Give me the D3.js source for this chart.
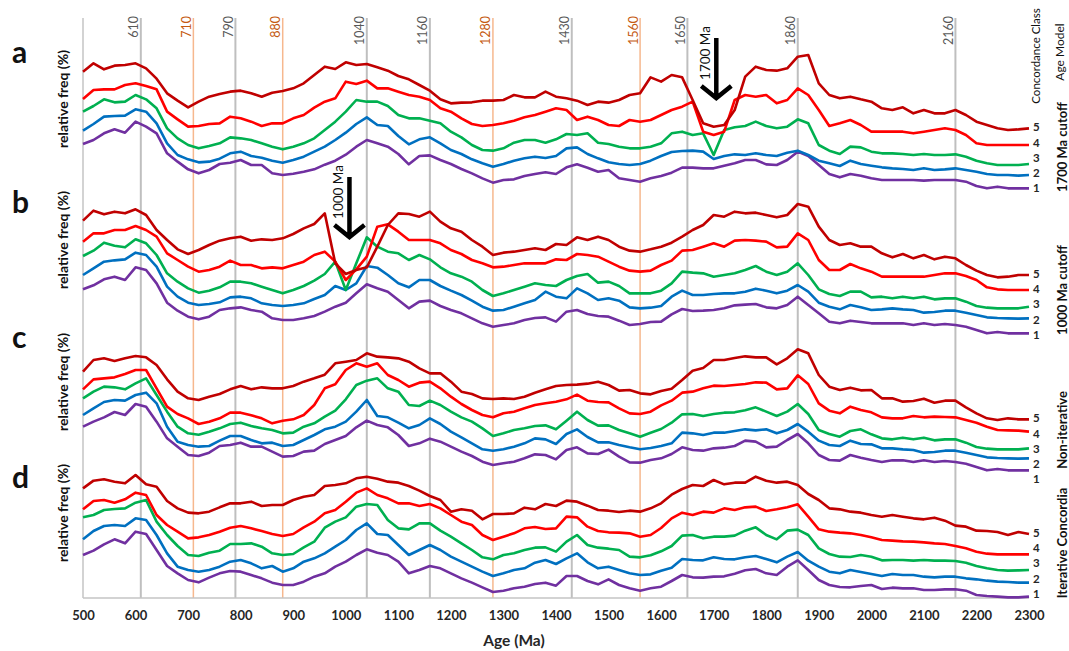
<!DOCTYPE html>
<html>
<head>
<meta charset="utf-8">
<script src="https://cdn.jsdelivr.net/npm/d3@7"></script>
<style>
  body { margin: 0; background: #ffffff; }
  svg text { font-family: Lato, "Open Sans", sans-serif; }
</style>
</head>
<body>
<div id="vis-container"></div>
<script>
// ages sampled every 20 Ma, 500-2300
var ages = d3.range(500, 2301, 20);
var ageTicks = d3.range(500, 2301, 100);
var grayRefs = [610, 790, 1040, 1160, 1430, 1650, 1860, 2160];
var orangeRefs = [710, 880, 1280, 1560];
var classes = [1, 2, 3, 4, 5];
var panelLetters = ["a", "b", "c", "d"];
var modelNames = ["1700 Ma cutoff", "1000 Ma cutoff", "Non-iterative", "Iterative Concordia"];
var arrowAges = [1705, 1007];
var arrowLabels = ["1700 Ma", "1000 Ma"];

// relative frequency (stacked, arbitrary units) - panel a, 1700 Ma cutoff
var a5 = [38.5,41,39.2,40.3,40.5,41,39.5,36.4,32,29.8,27.8,29.5,31,31.8,32.5,32.8,32,31,32.2,32.7,33.5,35,37.5,40,39.3,41.3,
  40.5,40.8,39.8,38.8,37.2,36.2,34.5,32.8,30.2,29,29.2,29.3,29.8,29.8,30,31.5,30.8,30.8,32.5,31,30.5,29.8,28.5,29.5,29.2,
  30,31.5,32,36.8,35.5,37.5,36.8,30,23,22,22.5,27,37,40,39,38.8,39.5,43,43.5,35,31.5,30.5,31,30.2,29.5,
  27.5,27,27.8,26,27,26,26,27,25.5,23.5,22.5,21.5,21,21.2,21.5];
var a4 = [30.3,33,33.2,33.2,34.5,35,34.2,33.2,26.5,24.2,22,22.2,22.8,23,25,24.5,23.5,22.2,23,23,24.5,25.5,27.7,29.5,30.5,35.5,
  34.8,35.8,33.5,33.5,32.5,31.5,31,30,27.5,26.5,24.5,22.8,22.2,22.5,23,23.8,24.8,25.5,26.5,27.5,27,24,25,24,22.5,
  22.2,24,23.5,24,25.5,27,28,29.5,20.5,19.5,20.5,30,31.5,31,31.5,29,30,33.5,31.5,27,22.2,23,24,22.5,20.5,
  20.5,20.5,20.5,20,20.5,21,21.5,21,19.5,17,16.5,16.5,16.5,16.5,16.5];
var a3 = [26.5,28.2,30.2,29.3,29.5,31.5,30.2,27.5,21.5,18.5,16.5,15.5,16.2,17,18.8,18.5,18,17,16,15.2,16,17,18.5,21,23.5,26.5,
  30,29.5,29.5,28.2,25.5,24.5,24.5,23.8,23,20.5,18.8,16.5,15,14.8,15.5,17.2,18,18,17.2,18.2,19.8,19.5,20,17.2,16.8,
  16,15.5,15.5,16,17,20,20.5,19.5,20,13.5,21,21.8,22.2,23.5,22.2,21.5,22,24.2,23,16.5,14.8,13.8,16,15.8,14.5,
  14,14,13.8,13.5,13.8,13.5,13.5,13.7,13,11.8,11,10.5,10.5,10.5,10.8];
var a2 = [20.8,22.8,25,25.2,25.3,27.2,26.5,23,17,13.5,12.2,11.3,11.5,12.4,14,14.5,13.2,12.7,11.8,11.2,12,13,14.5,16,18,20.2,
  22.8,24.8,22.5,22.2,19.2,16.7,18.2,18.8,17,15,13.8,12.2,11,10,10.8,11.8,12.5,13,12.6,13.2,15.5,15.8,13.8,12.5,11.3,
  10.8,10.5,10.8,11.8,13.2,14.4,14.7,14.8,14.5,12.3,13.2,13.7,13.5,14,13.5,13.2,14.2,14.8,13.5,11.8,11,10.2,11.8,10.8,10.3,
  9.8,9.5,9.3,9,9.5,9,9.2,9.5,9,8.5,7.8,7.5,7.5,7.3,7.5];
var a1 = [16.8,18,20,21.2,20.2,23.5,22,20,14,11.5,9.2,8,9,10.8,11.2,12,10.5,10.5,8,7.5,7.9,8.5,9.2,10.6,11.8,13.6,
  16,18,17,16,13.8,10.7,13.2,13.4,12,10.8,9.3,8,6.5,5.2,6,6.2,7.2,7.8,8.3,7.8,9.8,10.7,9.7,8.5,9,
  6.5,6,5.5,6.5,7.2,8.2,9.7,9.7,9.5,9.5,10.3,11,12,12,10.7,10.5,12,14.5,13.2,10.5,7.8,6.8,7.8,7.3,6.5,
  6,6,6,6,5.8,6,6,6,5.5,4.2,3.5,4,3.5,3.5,3.5];

// panel b, 1000 Ma cutoff
var b5 = [47.8,50.8,49.7,50.5,50,51.2,49.5,45,42,39.2,37.8,39,40.5,41.8,42.5,43,41.8,42.2,42,42.5,43.8,45.5,46.8,50,35,31.8,
  33,33.8,40,46.5,50,49.8,49,50.5,47.5,45.5,44.5,42,40,37.5,38.2,38.5,39,39.5,39,40.8,40.5,42.8,42,43,42,
  40,38.8,38.5,39.2,40,41.2,43,45,46.5,49.5,49,50.5,50,50.2,49.5,48.8,49.5,52.8,52,46,42,40.5,41,40,40,
  38,36.8,37.8,36.5,37.5,36.2,37,36.5,34.5,32.8,31.5,30.8,31,31.5,31.5];
var b4 = [41.5,44,44,45,45,46.2,45,43,38,36,34,32.5,33,34,35.8,34.5,34.5,33.5,33.8,33.5,34.5,35.5,37.5,38.5,35.5,30,
  33.2,37,46,46.7,44.5,42,42,42,41,39,37.8,36,35,33.8,34,34.5,35,35,35,36.2,36,37.8,37.5,37,35.5,
  34,32.8,32.5,32.8,34.5,35.8,38.8,39,40,41,40,41.8,42,41.8,41.5,39.8,40,44,42,36,33,33,34.8,33.5,32.5,
  31,31,31,31,31,31.5,32,32,31.2,30,27.8,27.2,27,27,27];
var b3 = [37.2,38.8,41.2,40.3,39.8,42.2,41,37.5,32,29.5,27.5,26.2,26.8,27.8,29.5,29.5,29,28,27,26,27,28.2,29.8,31.8,35.5,27,
  35,42.8,40,38.5,38,36,37.5,36.2,33.8,32,31,29.5,27,25.2,26,27,28,29,28.5,28.2,30,31.2,31.8,29.2,29.5,
  28.2,26,26,26,26.8,29,32.5,32.2,32,31,31.5,32,33,34.2,32.5,31.5,32.5,35,31.5,27.2,25.8,25.2,26.5,26.5,24.8,
  25,24.5,25,24.5,25,24.2,24.5,24.5,23.5,22.2,21.7,21.5,21.5,21.5,22];
var b2 = [31.5,33.5,35.5,35.9,36.2,38.2,37.5,34,28,25,23.2,22.5,22.8,23.3,24.8,25,24.5,23,22.5,22.2,22.5,23,24.3,25.5,28.2,27,
  29,34.2,33.7,31.5,29,27.8,30,30,28.2,26.8,25.5,23.8,22,20.8,21,22,23,24,26.5,25,24.5,27.5,26,24,24.5,
  23.8,21.8,21.5,21.7,22.2,25,26.8,25.5,25.5,25.8,26,26,26.5,27.4,26.8,26,26.8,28.5,26.5,23.2,22,21.2,22.5,21.8,21,
  21.2,21.5,21.2,21,20.2,20.4,20.8,20.8,20.2,19.5,18.8,18.6,18.5,18.4,18.5];
var b1 = [27.2,28.4,30.2,31,30,33.8,33,29,23.2,20.8,19,18.2,19,21,21.5,21.8,21,20.5,18.5,18,18,18.5,19.2,20.5,22,23.2,
  26,28.7,27.5,26.5,24,21.5,23.5,23.8,22.2,21,20,18.5,17,16,16.5,17,18,18.6,18.8,17.5,20.5,21,19.8,19.2,19,
  17.8,16.5,16.8,17.4,17.5,19.7,21.3,20.7,20.8,21,21.5,22.4,22.6,22.8,21.8,21.5,22.5,25,22.5,20,17.5,17,17.8,17.4,17,
  17,17,17,16.5,17,16.5,16.8,16.5,16,15,14,14.4,14,14,14];

// panel c, non-iterative
var c5 = [47.5,51,51.5,50.7,51.5,52.2,51.8,49.5,45.2,41.5,39.5,39,40,40.8,42.2,43.2,42.2,42.8,42.5,42.5,43.2,44.5,45.5,46.6,50,50.5,
  51,53,52,51.8,51.5,50.5,48.5,47,47,44.5,41.5,40.8,39.5,39.3,39.5,39.3,40,41.2,42.2,43.2,
  43.5,43.6,43.9,44.5,43.5,41.8,42,41,40.7,41.7,42.4,45,47.8,48.6,51,51,51.6,52.1,51.8,51.8,49.7,51.5,54.2,53,46.5,43,42,42.7,41.9,42,39.5,
  39.5,38.5,38.7,39.4,38.2,38.8,38.8,36.8,35,33.5,33,33.5,33.2,33.2];
var c4 = [42.2,45.2,45.5,45.8,46.8,48,48,42.5,37,34.8,33.5,31.8,32.5,33.5,35.2,35.2,34.4,33.5,32,32.8,33.2,34.5,37.5,42.5,43.7,48,
  50,49,50,46.5,45,43,44.2,44.5,42.5,40,37.8,36,34.5,33.8,35,35.5,36.5,37.5,38,38.5,
  39.2,40.6,38.8,38.4,38.3,36.5,35,34.8,35.5,37.4,38.8,41.2,41.5,42.5,43.3,43.2,43.5,43.8,44.3,44.2,42.2,42.5,46.4,43.8,38,35.8,35,37,36,35.3,33.8,
  33.5,33.5,34.2,33.8,34,33.9,33.8,33,32.2,31,30,29.9,29.8,29.5];
var c3 = [39.5,41.5,43,42.8,42.2,44,45.5,40.5,35.5,31,29,28.6,29.5,30.5,31.8,32.2,31.2,30.5,30,29,29.2,31,32,34,35.8,39.2,
  43.5,44.8,45.5,42.5,41.5,37.5,37.2,38.8,37.5,35.5,33.8,32.5,30.5,28.2,29,30,30.5,31.2,31.4,30.2,
  32.8,35.5,33,31.3,31.4,30,29,28,29.2,30.3,32.2,34.7,34.8,34.2,34.8,35.2,35.3,35.9,36.8,35.5,34.2,35.5,37.8,34.8,30,28.8,28,29.7,30.2,28.7,27.5,
  27.2,27.7,27.2,27.7,26.9,27.2,27.2,26.2,24.9,24.4,24.2,24.2,24.2,24.5];
var c2 = [34.5,36.5,38.4,39,38.8,40.5,41.2,38,31,26.5,25.5,25,25.2,26.8,28.2,28.2,27,26,26.2,25.2,25.5,27,28.5,30.2,31,32.5,
  35.5,39,34.2,33.8,32.2,30.5,31.5,33.5,31.8,29.5,27.8,26,24.2,23.8,24.2,25,26,27.5,27.2,25.8,
  28.8,30.2,27.9,26.3,26.3,25.5,24.8,24.2,24.6,25.2,26,29.2,29,28.5,29.2,29.2,29.7,30.2,29.9,30.2,29,30,31.8,29.5,26.8,25.5,25.2,26.8,25.8,25.7,24.5,
  24.5,24.2,24,23.2,23.4,23.8,23.8,23.2,22.5,21.8,21.6,21.5,21.4,21.5];
var c1 = [31,32.5,33.8,35.4,34.5,37.8,37,32.5,27.5,25,22.5,22.2,23.2,25.2,25.5,26.2,25,25,23.5,22,22.2,23.5,23.8,25.8,27,28.2,
  30.8,32.8,31.5,30.8,28.5,25.2,26,27.4,26.5,25,23.5,22.2,20.5,19.5,20,20.5,21.5,22.7,22.5,21.2,
  24,24.8,23,22.8,24.1,22,20.3,20.2,21,21.5,22.8,24.8,24,23.8,24.5,24.7,25.2,26.8,26.5,24.8,25,27,28.8,26,22.5,21,20.8,22.5,21.7,21,20.4,
  20.9,20.9,20.4,20.9,20.4,20.7,20.4,19.9,18.9,17.9,18.3,17.9,17.9,17.9];

// panel d, iterative concordia
var d5 = [51.5,53.8,54.2,53.5,53,55.5,52.7,52,47.7,45.5,44.2,44,44.5,45.8,47,47,47.5,46.2,46.5,46.5,48,49,49.5,52.2,52.5,53,
  54.5,55,54.4,53.5,53.2,52.2,50.8,49.2,48,44.5,45.2,44.8,42.2,43.8,43.8,44,45.7,45.2,46.8,46.2,
  47.8,47.5,46.3,45,44.8,44.4,44.8,44.5,45.5,47,49.6,51.3,52.5,52.2,54,52.7,53.2,53.2,55,53.8,53.2,53.5,52.5,49.8,48,45.5,45.2,44.5,44.2,43.5,43,
  43.5,43,42.5,42.2,42.7,41.8,40.3,40,38.8,38.7,38.4,37.5,38.4,37.8];
var d4 = [45.2,47.7,48,47.2,48.2,50.2,49.5,43.5,40.5,38.5,36.5,36.8,37.5,38.5,39.7,40.2,39.5,38.7,37.8,37.2,37.8,39.8,41.5,44,45,47.5,
  50.2,51.5,49.5,48.5,47,47,46.2,46.8,45.5,43.5,41.5,40.5,37.5,36,37,38,39.5,39.9,39.3,39.5,
  43,42.8,40,38.7,38.3,38.2,38,37,37.5,39.6,42.5,44.2,43.5,44.5,44.2,45.5,45,45.8,46,44.7,45.2,45.8,46.7,43,39.2,38.5,38.2,38,37.5,36.8,36,
  35.8,35.6,35.5,35.3,35,34.8,34.2,33.5,32.5,31.9,31.7,31.7,31.7,31.7];
var d3v = [42.8,43.5,45,45.3,45.5,47.2,48,41.5,37.5,34.2,31.5,31.2,32.2,32.8,34.8,34.8,35,34,32,31.5,31.8,33.8,35.5,39.7,41.5,42.8,
  46,46.8,46.5,42,39.5,39.2,41,41,38.8,37,35,33,30.8,30.2,31.5,32,33,33.7,33.8,32.5,
  35.5,37.5,34.5,33.7,33.4,33,31,30.8,31.4,32.6,34.2,37.3,37.5,36.5,37,37,37.3,38.8,39.8,37.5,36.2,38.8,39.1,37.5,33.5,31.8,31,30.9,31.5,31,29.9,
  30,30,29.8,30,29.8,29.8,29.7,29.2,28.2,27.5,27,26.8,26.9,27];
var d2 = [36.2,38.7,40.2,40.5,40.2,42.5,42,37.5,32,28,27,26.5,27,28,29.5,30,29,27.5,28.2,26.5,27.5,29.5,30.5,32,34,36,
  39,41,37.8,37.5,34.5,31.5,33,34.5,33,31,29.5,28,26.5,25.2,26,27,27.5,29.2,30,28.8,
  30.5,32,29.3,27.5,28,27,26,25.5,25.7,26.8,27.7,30.3,30,29.9,30.8,30.3,30.2,30.8,31.2,30.3,29.3,31,32.4,29.8,28,26.5,26,27,26.4,25.8,25.2,
  25.8,25.5,25.5,25,24.8,25,25,24.5,24.2,23.8,23.5,23.4,23.2,23.2];
var d1 = [31.5,32.8,34.7,36.2,35,38.5,37.8,33,28.2,26,24,23.3,24.7,26,26.7,26.5,25.5,24.5,23.2,22.5,22.5,23.5,25,26,28,29.5,
  31.5,33.2,32.2,31.5,29.5,26,27,28.2,27.5,26,24.5,23.2,21.8,20.4,20.8,21.5,22,22.8,23.2,22.3,
  25.2,25.2,23.7,22.7,24.2,22.5,21.5,20.8,21.5,22,23.7,25.5,24.8,24.7,25,25.1,25.9,26.9,27.3,26,25.5,28,29.9,27,24,22.5,21.9,21.8,22.2,22.5,21.3,
  21.7,21.5,21.5,21,21,21.2,21.2,20.8,19.5,19.2,19,18.8,18.8,19];

var width = 1069, height = 651;
var plotTop = 18, plotBottom = 598;

var svg = d3.select("#vis-container")
  .append("svg")
  .attr("width", width)
  .attr("height", height)
  .style("background", "#ffffff");

var xScale = d3.scaleLinear().domain([500, 2300]).range([83, 1029]);
var color = d3.scaleOrdinal().domain(classes)
  .range(["#7030A0", "#0070C0", "#00B050", "#FF0000", "#C00000"]);

// panel layout
var panels = [
  { top: 0,   series: [a1, a2, a3, a4, a5], letterY: 63,  labelY: 99,  modelY: 147, arrowTop: 38 },
  { top: 180, series: [b1, b2, b3, b4, b5], letterY: 213, labelY: 240, modelY: 290, arrowTop: 177 },
  { top: 330, series: [c1, c2, c3, c4, c5], letterY: 348, labelY: 382, modelY: 430 },
  { top: 460, series: [d1, d2, d3v, d4, d5], letterY: 488, labelY: 513, modelY: 543 }
];

// reference age lines
var refs = grayRefs.map(function (a) { return { age: a, kind: "gray" }; })
  .concat(orangeRefs.map(function (a) { return { age: a, kind: "orange" }; }));

svg.selectAll(".ref-line")
  .data(refs)
  .enter().append("line")
  .attr("class", "ref-line")
  .attr("x1", function (d) { return xScale(d.age); })
  .attr("x2", function (d) { return xScale(d.age); })
  .attr("y1", plotTop)
  .attr("y2", plotBottom)
  .attr("stroke", function (d) { return d.kind == "gray" ? "#bfbfbf" : "#f6b88e"; })
  .attr("stroke-width", function (d) { return d.kind == "gray" ? 2 : 1.5; });

svg.selectAll(".ref-label")
  .data(refs)
  .enter().append("text")
  .attr("class", "ref-label")
  .attr("transform", function (d) { return "translate(" + (xScale(d.age) - 2.5) + "," + 16 + ") rotate(-90)"; })
  .attr("text-anchor", "end")
  .style("font-size", "12.5px")
  .attr("fill", function (d) { return d.kind == "gray" ? "#595959" : "#c55a11"; })
  .text(function (d) { return d.age; });

// axis frame
svg.append("line")
  .attr("x1", xScale(500)).attr("x2", xScale(500))
  .attr("y1", plotTop).attr("y2", plotBottom)
  .attr("stroke", "#c4c4c4").attr("stroke-width", 1.5);
svg.append("line")
  .attr("x1", xScale(500)).attr("x2", xScale(2300))
  .attr("y1", plotBottom).attr("y2", plotBottom)
  .attr("stroke", "#c4c4c4").attr("stroke-width", 1.5);

var xAxis = svg.append("g")
  .attr("class", "x-axis")
  .attr("transform", "translate(0," + plotBottom + ")")
  .call(d3.axisBottom(xScale).tickValues(ageTicks).tickSize(0).tickPadding(13).tickFormat(d3.format("d")));
xAxis.select(".domain").remove();
xAxis.selectAll("text")
  .style("font-family", "Lato, sans-serif")
  .style("font-size", "13px")
  .style("font-weight", "bold")
  .attr("fill", "#262626");

svg.append("text")
  .attr("x", 514)
  .attr("y", 646)
  .style("text-anchor", "middle")
  .style("font-size", "15.5px")
  .style("font-weight", "bold")
  .attr("fill", "#262626")
  .text("Age (Ma)");

// curves
var line = d3.line()
  .x(function (d) { return xScale(d.age); })
  .y(function (d) { return d.y; });

panels.forEach(function (p, pi) {
  var yScale = d3.scaleLinear().domain([0, 60]).range([p.top + 200, p.top]);
  var g = svg.append("g").attr("class", "panel-" + panelLetters[pi]);

  p.series.forEach(function (vals, ci) {
    var pts = vals.map(function (v, i) { return { age: ages[i], y: yScale(v) }; });
    g.append("path")
      .datum(pts)
      .attr("fill", "none")
      .attr("stroke", color(classes[ci]))
      .attr("stroke-width", 2.6)
      .attr("stroke-linejoin", "round")
      .attr("d", line);
  });

  // concordance class numbers, stacked from the class-5 curve end
  var top5 = p.series[4];
  var yStart = yScale(top5[top5.length - 1]) - 1;
  classes.forEach(function (c, ci) {
    svg.append("text")
      .attr("x", 1033)
      .attr("y", yStart + (4 - ci) * 15.2)
      .attr("dy", "0.35em")
      .style("font-size", "11.5px")
      .style("font-weight", "bold")
      .attr("fill", "#262626")
      .text(c);
  });

  svg.append("text")
    .attr("x", 12)
    .attr("y", p.letterY)
    .style("font-size", "30px")
    .style("font-weight", "bold")
    .attr("fill", "#111")
    .text(panelLetters[pi]);

  svg.append("text")
    .attr("transform", "translate(68," + p.labelY + ") rotate(-90)")
    .style("text-anchor", "middle")
    .style("font-size", "14px")
    .style("font-weight", "bold")
    .attr("fill", "#111")
    .text("relative freq (%)");

  svg.append("text")
    .attr("transform", "translate(1066.5," + p.modelY + ") rotate(-90)")
    .style("text-anchor", "middle")
    .style("font-size", "13px")
    .style("font-weight", "bold")
    .attr("fill", "#111")
    .text(modelNames[pi]);
});

// header labels on the right
svg.append("text")
  .attr("transform", "translate(1040,56) rotate(-90)")
  .style("text-anchor", "middle")
  .style("font-size", "11.5px")
  .attr("fill", "#111")
  .text("Concordance Class");
svg.append("text")
  .attr("transform", "translate(1064,52) rotate(-90)")
  .style("text-anchor", "middle")
  .style("font-size", "12px")
  .attr("fill", "#111")
  .text("Age Model");

// cutoff arrows
arrowAges.forEach(function (age, i) {
  var x = xScale(age), top = panels[i].arrowTop, tip = top + 60;
  svg.append("path")
    .attr("d", "M" + x + "," + top + "V" + (tip - 2) +
      "M" + (x - 15) + "," + (tip - 12) + "L" + x + "," + tip + "L" + (x + 15) + "," + (tip - 12))
    .attr("fill", "none")
    .attr("stroke", "#000")
    .attr("stroke-width", 4.5);
  svg.append("text")
    .attr("transform", "translate(" + (x - 6) + "," + (top + 15) + ") rotate(-90)")
    .style("text-anchor", "middle")
    .style("font-size", "13.5px")
    .attr("fill", "#111")
    .text(arrowLabels[i]);
});
</script>
</body>
</html>
